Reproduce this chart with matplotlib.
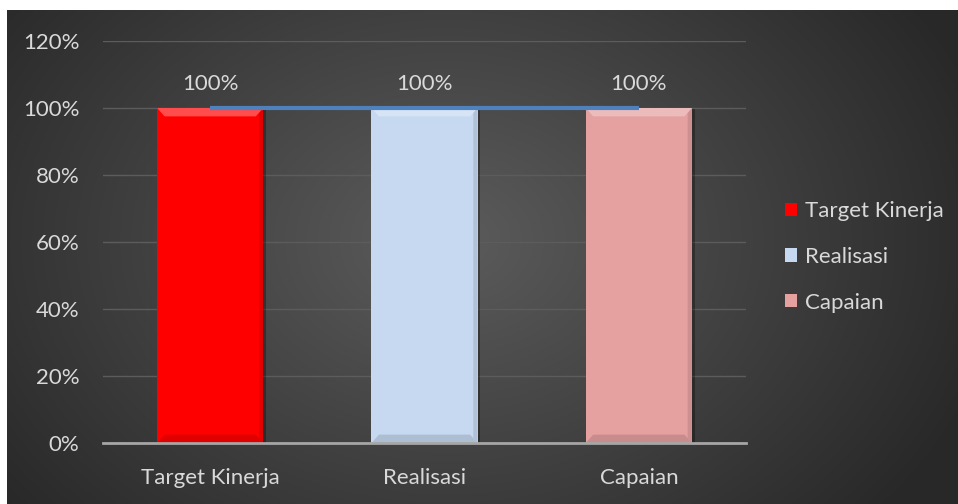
import numpy as np
import matplotlib
matplotlib.use('Agg')
import matplotlib.pyplot as plt
from matplotlib.ticker import FuncFormatter
import matplotlib.patheffects as pe

categories = ['Target Kinerja', 'Realisasi', 'Capaian']
values = [1.0, 1.0, 1.0]
bar_colors = ['#ff0000', '#c6d9f1', '#e5a0a0']
line_color = '#4f81bd'
yticks = [0, 0.2, 0.4, 0.6, 0.8, 1.0, 1.2]

plt.rcParams['font.family'] = ['Lato', 'DejaVu Sans']
FS = 16

W, H = 958, 504
fig = plt.figure(figsize=(W / 100, H / 100), dpi=100)
fig.patch.set_facecolor('white')

# dark radial gradient for the chart area
bg = fig.add_axes([7 / W, 0, 1 - 7 / W, 1 - 10 / H])
yy, xx = np.mgrid[0:494, 0:951]
cx, cy = 440, 230
r = np.sqrt(((xx - cx) / 560.0) ** 2 + ((yy - cy) / 420.0) ** 2)
shade = np.clip(0.36 - 0.2 * r, 0.16, 0.36)
bg.imshow(np.dstack([shade, shade, shade]), aspect='auto', interpolation='bilinear')
bg.set_axis_off()

ax = fig.add_axes([103 / W, (H - 443) / H, (746 - 103) / W, (443 - 41) / H])
ax.patch.set_alpha(0)
x = np.arange(len(categories))

ax.set_ylim(0, 1.2)
ax.set_xlim(-0.5, len(categories) - 0.5)
ax.set_yticks(yticks)
ax.yaxis.set_major_formatter(FuncFormatter(lambda v, p: '{:.0f}%'.format(v * 100)))
ax.grid(axis='y', color='#5c5c5c', linewidth=1)
ax.set_axisbelow(True)

bars = ax.bar(x, values, width=0.495, color=bar_colors, zorder=3,
              path_effects=[pe.SimplePatchShadow(offset=(2, -1), shadow_rgbFace='black', alpha=0.3),
                            pe.Normal()])
# bevel highlight along the top and bottom of each bar
for b, c in zip(bars, bar_colors):
    x0 = b.get_x()
    w = b.get_width()
    h = b.get_height()
    ax.fill([x0, x0 + w, x0 + w * 0.93, x0 + w * 0.07], [h, h, h - 0.025, h - 0.025],
            color='white', alpha=0.3, zorder=4, linewidth=0)
    ax.fill([x0, x0 + w, x0 + w * 0.93, x0 + w * 0.07], [0, 0, 0.025, 0.025],
            color='black', alpha=0.12, zorder=4, linewidth=0)
    ax.fill([x0 + w, x0 + w, x0 + w * 0.96, x0 + w * 0.96], [0, h, h - 0.015, 0.015],
            color='black', alpha=0.1, zorder=4, linewidth=0)

ax.plot(x, values, color=line_color, linewidth=3, zorder=5, solid_capstyle='butt')

for xi, v in zip(x, values):
    ax.text(xi, v + 0.042, '{:.0f}%'.format(v * 100), ha='center', va='bottom',
            color='#d9d9d9', fontsize=FS)

ax.set_xticks(x)
ax.set_xticklabels(categories)
ax.tick_params(axis='both', length=0, colors='#d9d9d9', labelsize=FS)
ax.tick_params(axis='x', pad=18)
ax.tick_params(axis='y', pad=17)
for s in ['top', 'right', 'left']:
    ax.spines[s].set_visible(False)
ax.spines['bottom'].set_color('#a6a6a6')
ax.spines['bottom'].set_linewidth(2)
ax.spines['bottom'].set_zorder(6)

handles = [plt.Rectangle((0, 0), 1, 1, facecolor=c, edgecolor='none') for c in bar_colors]
leg = fig.legend(handles, categories, loc='center left', bbox_to_anchor=(774 / W, 1 - 257 / H),
                 frameon=False, fontsize=FS, labelcolor='#d9d9d9', handlelength=0.55,
                 handleheight=0.55, handletextpad=0.35, labelspacing=1.15, borderpad=0)

fig.savefig('out.png', dpi=100)
